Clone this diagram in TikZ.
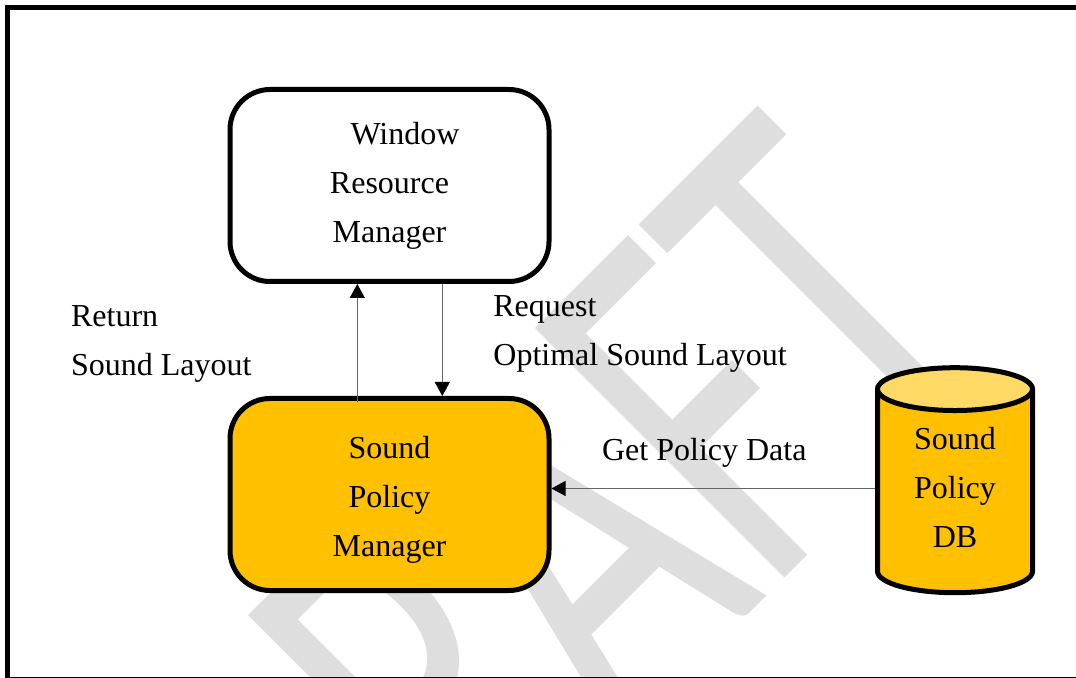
\documentclass[tikz,border=0pt]{standalone}
\usepackage{fontspec}
\setmainfont{Liberation Serif}
\newfontfamily\wmfont{Carlito}
\usetikzlibrary{arrows.meta,positioning,shapes.geometric}
\definecolor{spmgold}{HTML}{FFC000}
\definecolor{dbtop}{HTML}{FFD966}
\definecolor{wmgray}{HTML}{DEDEDE}

\begin{document}
\begin{tikzpicture}[x=0.5pt,y=-0.5pt,node distance=56pt,
font=\fontsize{16}{24.5}\selectfont,
box/.style={draw,line width=2.5pt,rounded corners=20pt,minimum width=159.5pt,minimum height=96pt,align=center,fill=white},
dbbox/.style={cylinder,draw,line width=2.5pt,shape border rotate=90,aspect=0.45,minimum width=77.5pt,minimum height=112.5pt,align=center,cylinder uses custom fill,cylinder body fill=spmgold,cylinder end fill=dbtop},
arr/.style={-{Triangle[length=7pt,width=7.5pt,color=black]},line width=0.5pt,draw=black!60},
lbl/.style={align=left,inner sep=0pt},
wmark/.style={text=wmgray,font=\wmfont\fontsize{275}{275}\selectfont,inner sep=0pt,transform shape,rotate=45,xscale=0.66}]
\useasboundingbox (0,0) rectangle (1076,678);
\node[wmark,anchor=base east] (draft) at (1011,352) {DRAFT};
\draw[line width=2.4pt] (7.5,7.2) rectangle (1083,679.5);
\node[box] (wrm) at (389.5,185.5) {\hspace*{15.5pt}Window\\Resource\\Manager};
\node[box,fill=spmgold,below=of wrm] (spm) {\rule{0pt}{16pt}Sound\\Policy\\Manager};
\node[dbbox] (db) at (955,496.5) {Sound\\Policy\\DB\rule[-9pt]{0pt}{9pt}};
\draw[arr] ([xshift=-16.1pt,yshift=-3pt]spm.north) -- ([xshift=-16.1pt]wrm.south);
\draw[arr] ([xshift=26.4pt]wrm.south) -- ([xshift=26.4pt]spm.north);
\coordinate (getin) at ([yshift=3pt]spm.east);
\draw[arr] (getin -| db.west) -- (getin);
\node[lbl,anchor=north west] (retlbl) at (70.7,304.8) {Return\\Sound Layout};
\node[lbl,anchor=north west] (reqlbl) at (493,295.5) {Request\\Optimal Sound Layout};
\node[lbl,anchor=base west] (getlbl) at (601.7,460.7) {Get Policy Data};
\end{tikzpicture}
\end{document}
